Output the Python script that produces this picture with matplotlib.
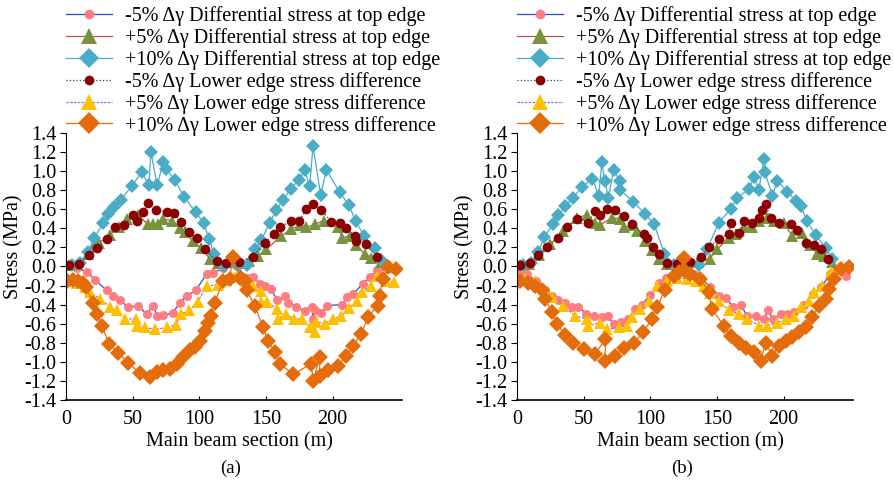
import matplotlib
matplotlib.use('Agg')
import matplotlib.pyplot as plt

# ---- Data ----
# (x in m, stress in MPa); names follow the legend
x_ticks = [0, 50, 100, 150, 200]
y_ticks = [-1.4, -1.2, -1.0, -0.8, -0.6, -0.4, -0.2, 0.0, 0.2, 0.4, 0.6, 0.8, 1.0, 1.2, 1.4]

labels = [
    '-5% \u0394\u03b3 Differential stress at top edge',
    '+5% \u0394\u03b3 Differential stress at top edge',
    '+10% \u0394\u03b3 Differential stress at top edge',
    '-5% \u0394\u03b3 Lower edge stress difference',
    '+5% \u0394\u03b3 Lower edge stress difference',
    '+10% \u0394\u03b3 Lower edge stress difference',
]

# panel (a)
a_top_m5 = [(1, 0.0), (8, -0.02), (16, -0.06), (21.7, -0.14), (30.5, -0.25), (35.4, -0.31), (40.4, -0.35),
            (46.7, -0.43), (54.2, -0.41), (60.4, -0.50), (65.4, -0.41), (68.4, -0.52), (72.9, -0.51),
            (79.9, -0.49), (85.4, -0.38), (90.4, -0.31), (97.4, -0.25), (105.4, -0.08), (110.3, -0.07),
            (118, -0.02), (128, 0.0), (136, -0.12), (140.3, -0.11), (145.3, -0.18), (149.6, -0.20),
            (153.6, -0.24), (158.5, -0.35), (164, -0.31), (166.5, -0.38), (172.8, -0.42), (179, -0.47),
            (184.5, -0.43), (185.2, -0.55), (186.5, -0.46), (191.5, -0.49), (196, -0.41), (207, -0.40),
            (211, -0.32), (215.2, -0.29), (222.7, -0.18), (228.2, -0.11), (233.5, -0.04), (245, -0.03)]
a_top_p5 = [(2, 0.02), (8, 0.03), (16.7, 0.13), (21.7, 0.23), (24.9, 0.25), (33, 0.33), (39.7, 0.41),
            (45.5, 0.50), (53.7, 0.54), (61.6, 0.44), (65.4, 0.44), (69.1, 0.44), (72.4, 0.50), (79.2, 0.48),
            (85.4, 0.40), (89.1, 0.36), (94.9, 0.27), (101.6, 0.19), (107.9, 0.08), (114.1, 0.04),
            (122, 0.05), (130, 0.04), (137, 0.06), (144, 0.11), (150.3, 0.18), (161.6, 0.32), (168.5, 0.39),
            (175.3, 0.43), (180.3, 0.41), (186.5, 0.44), (193.3, 0.48), (204, 0.41), (207, 0.30),
            (212.7, 0.32), (217.7, 0.22), (224, 0.13), (229, 0.09), (236, 0.05)]
a_top_p10 = [(4.3, 0.01), (10.5, 0.04), (16.5, 0.15), (21.2, 0.30), (27.9, 0.45), (31.7, 0.55), (36.2, 0.62),
             (41.2, 0.70), (49.2, 0.84), (56.7, 0.99), (62.2, 0.85), (63.7, 1.20), (68.4, 0.85), (72.9, 1.09),
             (74.7, 1.02), (81.6, 0.91), (88.4, 0.73), (97.2, 0.57), (103.4, 0.45), (107.3, 0.29),
             (111.1, 0.13), (118.4, 0.0), (129.1, 0.01), (135.8, 0.01), (141.8, 0.18), (146.6, 0.28),
             (152.8, 0.46), (157.8, 0.59), (162.8, 0.70), (168.5, 0.81), (174.8, 0.91), (179, 1.01),
             (182.8, 0.84), (185.2, 1.26), (191, 0.75), (195.3, 1.01), (205.2, 0.78), (212.2, 0.64),
             (217.2, 0.48), (223.4, 0.32), (231.5, 0.19), (236.5, 0.07)]
a_low_m5 = [(2, 0.02), (10, 0.03), (17, 0.12), (23, 0.19), (30.5, 0.29), (36.7, 0.41), (43.4, 0.43),
            (50.4, 0.54), (53.4, 0.48), (57.9, 0.57), (61.7, 0.66), (67.4, 0.59), (75.9, 0.57), (80.9, 0.56),
            (86, 0.47), (92.1, 0.36), (97.9, 0.30), (104, 0.18), (112.9, 0.06), (120, 0.04), (130, 0.05),
            (140, 0.10), (149, 0.25), (156, 0.34), (160.3, 0.41), (169, 0.48), (175, 0.48), (180.3, 0.60),
            (185.2, 0.65), (191.5, 0.59), (199, 0.47), (205.2, 0.46), (210.2, 0.40), (216.5, 0.32),
            (217.2, 0.27), (225.2, 0.23), (233, 0.10)]
a_low_p5 = [(0.5, -0.15), (8, -0.17), (14, -0.22), (18, -0.27), (25.5, -0.34), (33, -0.42), (38, -0.46),
            (44.2, -0.55), (52.4, -0.55), (53, -0.62), (59.2, -0.64), (66.7, -0.66), (75.4, -0.64),
            (82.4, -0.61), (85.9, -0.50), (92.4, -0.46), (98.7, -0.37), (105.4, -0.21), (114.1, -0.19),
            (120, -0.14), (127, -0.11), (135, -0.15), (140.3, -0.20), (146, -0.26), (146, -0.37), (151, -0.37),
            (158.5, -0.45), (158.8, -0.55), (165.3, -0.50), (171, -0.55), (177, -0.55), (182.8, -0.64),
            (187, -0.69), (187.8, -0.58), (194, -0.60), (200.2, -0.55), (206.5, -0.52), (212.2, -0.44),
            (218, -0.36), (222, -0.27), (228.5, -0.20), (233, -0.10), (240, -0.15), (246, -0.16)]
a_low_p10 = [(0.5, -0.15), (5.5, -0.14), (9.2, -0.15), (12.5, -0.17), (15, -0.22), (20.4, -0.38), (23, -0.50),
             (26.7, -0.62), (32.4, -0.81), (39.2, -0.91), (46.7, -1.01), (55.4, -1.12), (62.9, -1.16),
             (67.9, -1.11), (72.9, -1.09), (77.9, -1.08), (82.9, -1.02), (87.9, -0.95), (92.9, -0.88),
             (96.6, -0.84), (100.4, -0.78), (104.1, -0.68), (106.6, -0.59), (108.5, -0.52), (111.6, -0.38),
             (117.8, -0.15), (122.8, -0.13), (125, 0.10), (130.3, -0.12), (134, -0.15), (135.4, -0.25),
             (141.6, -0.41), (147.8, -0.64), (151.5, -0.78), (156.6, -0.90), (160.3, -1.02), (170.3, -1.13),
             (184, -1.02), (185.3, -1.20), (190.3, -0.95), (190.3, -1.15), (196.5, -1.09), (204, -1.04),
             (210.3, -0.94), (215.2, -0.83), (221.5, -0.71), (226.4, -0.53), (234, -0.41), (235.2, -0.31),
             (237.7, -0.13), (241.4, -0.01), (247.7, -0.03)]

# panel (b)
b_top_m5 = [(2.3, -0.08), (7.3, -0.08), (14, -0.15), (21, -0.25), (26, -0.31), (31.1, -0.35), (36, -0.38),
            (41.1, -0.42), (46.1, -0.42), (52, -0.50), (57.4, -0.52), (63.7, -0.53), (67.9, -0.52),
            (72.4, -0.60), (78, -0.58), (83, -0.55), (88.7, -0.45), (93.7, -0.40), (100, -0.30),
            (106.2, -0.17), (112, -0.12), (118, -0.08), (126, -0.05), (133, -0.08), (138, -0.12),
            (145, -0.22), (151.4, -0.31), (156.4, -0.33), (162, -0.42), (167.7, -0.40), (172.7, -0.52),
            (179, -0.52), (185.2, -0.55), (188.2, -0.46), (192, -0.55), (197.7, -0.50), (202.8, -0.50),
            (208, -0.48), (215.3, -0.40), (222, -0.29), (228, -0.22), (235, -0.08), (240, -0.03),
            (246.6, -0.10)]
b_top_p5 = [(2, 0.02), (9, 0.03), (16.8, 0.12), (24.8, 0.23), (34.8, 0.37), (44.9, 0.51), (52.4, 0.54),
            (58.6, 0.46), (61.9, 0.43), (71.2, 0.51), (77.4, 0.50), (79.9, 0.41), (86.2, 0.43), (90, 0.37),
            (96.2, 0.27), (101, 0.17), (106.2, 0.08), (112.6, 0.03), (120, 0.04), (128, 0.05), (136, 0.05),
            (144.6, 0.08), (150.1, 0.18), (158.9, 0.30), (163.9, 0.34), (170.2, 0.41), (176.5, 0.41),
            (181.4, 0.48), (187.7, 0.51), (192.7, 0.48), (200, 0.45), (206.5, 0.32), (214.1, 0.35),
            (220, 0.22), (225.3, 0.13), (230.3, 0.11), (236, 0.05)]
b_top_p10 = [(4.3, 0.02), (10.3, 0.04), (16, 0.15), (20.5, 0.31), (26.8, 0.44), (31.1, 0.54), (36.1, 0.63),
             (41.9, 0.72), (48.6, 0.83), (56.6, 0.92), (61.2, 0.74), (63.7, 1.09), (65.7, 0.90), (68.6, 0.72),
             (72.4, 1.01), (76.9, 0.90), (77.5, 0.80), (87, 0.68), (96.2, 0.55), (103, 0.44), (110.5, 0.13),
             (117.5, 0.02), (129.3, 0.02), (136.3, 0.02), (142.6, 0.18), (151.4, 0.46), (160.2, 0.60),
             (165.2, 0.72), (173.9, 0.81), (177.7, 0.94), (181.4, 0.80), (185.2, 1.13), (185.9, 0.99),
             (191.5, 0.74), (195.3, 0.90), (202.8, 0.78), (209, 0.69), (212.8, 0.63), (217.3, 0.48),
             (224, 0.33), (231.6, 0.19), (236.6, 0.08)]
b_low_m5 = [(2, 0.02), (10, 0.04), (16, 0.12), (22.3, 0.20), (31.1, 0.30), (37.4, 0.41), (44.9, 0.50),
            (53.6, 0.46), (58.6, 0.58), (62.4, 0.54), (67.4, 0.60), (73.7, 0.59), (79.9, 0.53), (86.2, 0.44),
            (95, 0.34), (97.5, 0.30), (102, 0.20), (106.2, 0.13), (112.6, 0.04), (120, 0.03), (130, 0.05),
            (138, 0.10), (143.8, 0.20), (151.4, 0.29), (158.9, 0.34), (160.2, 0.45), (166.4, 0.35),
            (170.2, 0.48), (176.5, 0.46), (181.4, 0.51), (183.9, 0.59), (186.5, 0.65), (190.2, 0.51),
            (196.5, 0.46), (205.3, 0.44), (210, 0.38), (216.5, 0.25), (222.8, 0.22), (227.8, 0.18),
            (233, 0.08)]
b_low_p5 = [(0, -0.13), (6, -0.13), (13.5, -0.15), (20, -0.24), (26.1, -0.32), (34.8, -0.41), (43.6, -0.52),
            (52.4, -0.55), (53.6, -0.62), (62.4, -0.59), (67.4, -0.66), (76.2, -0.64), (82.5, -0.62),
            (86.2, -0.53), (92.5, -0.45), (98.7, -0.36), (105, -0.20), (112.6, -0.15), (120.1, -0.12),
            (127.6, -0.13), (134, -0.15), (140.1, -0.20), (145, -0.28), (151.4, -0.36), (158.9, -0.46),
            (166.4, -0.50), (172.7, -0.55), (181.4, -0.62), (187.7, -0.62), (195.3, -0.59), (201.5, -0.55),
            (207.8, -0.52), (212.8, -0.43), (219, -0.36), (222.8, -0.27), (229.1, -0.20), (235.3, -0.06),
            (241.6, -0.01)]
b_low_p10 = [(2.3, -0.15), (8.5, -0.17), (13.5, -0.20), (18.6, -0.25), (21.1, -0.34), (26.1, -0.48),
             (29.8, -0.60), (36.1, -0.72), (42.3, -0.80), (49.9, -0.87), (58.6, -0.92), (66.2, -0.76),
             (66.2, -0.99), (73.7, -0.94), (79.9, -0.85), (87.9, -0.80), (94.5, -0.69), (101.3, -0.55),
             (105, -0.43), (110.8, -0.25), (117.5, -0.10), (121.3, -0.06), (125, 0.09), (126.3, -0.05),
             (130.1, -0.08), (137.6, -0.13), (143.8, -0.27), (146.4, -0.45), (155.1, -0.62), (160.2, -0.73),
             (166.4, -0.80), (171.4, -0.85), (177.7, -0.90), (182.7, -0.99), (186.5, -0.80), (191.5, -0.94),
             (196.5, -0.83), (201.5, -0.78), (206.5, -0.74), (211.5, -0.69), (216.5, -0.64), (221.6, -0.53),
             (226.5, -0.41), (231.6, -0.34), (234.1, -0.24), (237.9, -0.13), (243, -0.03), (249.1, -0.01)]

# line colour, line style, marker, marker colour, marker size, legend marker size
STYLES = [
    ('#2050c8', '-', 'o', '#ff7c80', 6.5, 7),
    ('#c0504d', '-', '^', '#77933c', 8.5, 11),
    ('#4bacc6', '-', 'D', '#4bacc6', 7.5, 10),
    ('#404040', ':', 'o', '#8b0000', 7, 7),
    ('#9966ff', (0, (2, 1)), '^', '#ffc000', 8.5, 11),
    ('#e46c0a', '-', 'D', '#e46c0a', 8.5, 11),
]

plt.rcParams.update({
    'font.family': ['Liberation Serif', 'DejaVu Serif'],
    'font.size': 14.5,
})

fig = plt.figure(figsize=(8.95, 4.83), dpi=100)
W, H = 895.0, 483.0


def draw_panel(left_px, series, caption):
    ax = fig.add_axes([left_px / W, 1 - 400 / H, 336 / W, 270 / H])
    for (lc, ls, mk, mc, ms, _), pts in zip(STYLES, series):
        xs = [p[0] for p in pts]
        ys = [p[1] for p in pts]
        ax.plot(xs, ys, color=lc, linestyle=ls, linewidth=0.9, marker=mk, markersize=ms,
                markerfacecolor=mc, markeredgecolor=mc, markeredgewidth=0)
    ax.set_xlim(0, 252)
    ax.set_ylim(-1.4, 1.43)
    ax.set_xticks(x_ticks)
    ax.set_yticks(y_ticks)
    ax.set_yticklabels([f'{v:.1f}' for v in y_ticks])
    ax.spines['top'].set_visible(False)
    ax.spines['right'].set_visible(False)
    ax.spines['left'].set_bounds(-1.4, 1.4)
    ax.spines['bottom'].set_linewidth(1.2)
    ax.tick_params(axis='y', direction='out', length=4, width=0.8, pad=3, labelsize=14.5)
    ax.tick_params(axis='x', direction='in', length=3, width=0.8, pad=7, labelsize=14.5)
    ax.set_ylabel('Stress (MPa)', fontsize=14.5)
    ax.yaxis.set_label_coords(-0.128, 0.567)
    ax.set_xlabel('Main beam section (m)', fontsize=14.5)
    ax.xaxis.set_label_coords(0.515, -0.118)
    ax.text(0.49, -0.252, caption, transform=ax.transAxes, ha='center', va='center', fontsize=13.5)

    leg = ax.legend(labels, loc='upper left', bbox_to_anchor=(left_px / W, 1 - 6 / H),
                    bbox_transform=fig.transFigure, frameon=False, fontsize=14.5,
                    handlelength=2.3, handletextpad=0.65, labelspacing=0.1,
                    borderpad=0, borderaxespad=0)
    for h, st in zip(leg.legend_handles, STYLES):
        h.set_markersize(st[5])
    return ax


draw_panel(66, [a_top_m5, a_top_p5, a_top_p10, a_low_m5, a_low_p5, a_low_p10], '(a)')
draw_panel(517, [b_top_m5, b_top_p5, b_top_p10, b_low_m5, b_low_p5, b_low_p10], '(b)')

plt.savefig('out.png', dpi=100)
print('Saved out.png')
